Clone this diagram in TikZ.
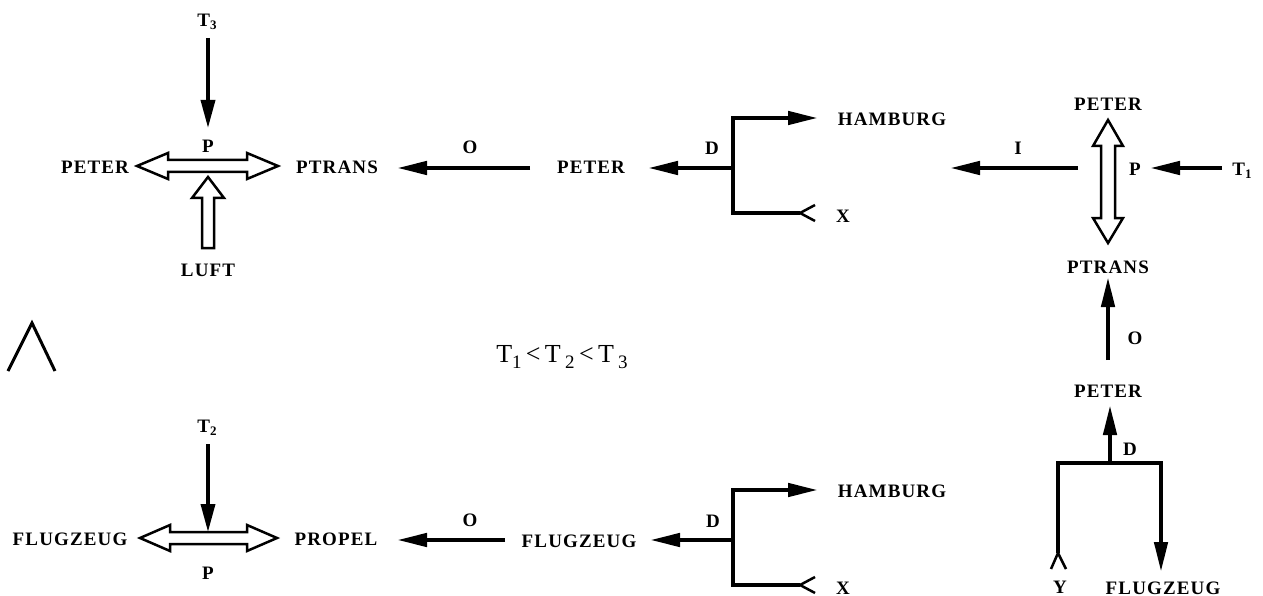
\documentclass[tikz,border=0pt]{standalone}
\usepackage{fontspec}
\setmainfont{Liberation Serif}
\newfontfamily\lblfont[LetterSpace=6]{Liberation Serif}
\usetikzlibrary{arrows.meta}
\newcommand\lowsub[1]{\raisebox{-0.4ex}{\fontsize{13}{13}\selectfont #1}}
\newcommand\relsub[1]{\raisebox{-0.45ex}{\fontsize{19}{19}\selectfont #1}}
\tikzset{
  lbl/.style={font=\lblfont\fontsize{19}{19}\selectfont\bfseries, inner sep=1pt},
  rel/.style={font=\fontsize{26}{26}\selectfont, inner sep=1pt},
  ln/.style={line width=4.5pt, line join=miter},
  thickarr/.style={ln, -{Triangle[length=30pt,width=13pt]}},
  tarr/.style={line width=3.5pt, -{Triangle[length=28pt,width=14pt]}},
  hollow/.style={line width=2.5pt, fill=white, line join=miter},
  wedge/.style={line width=2.5pt, line join=miter}
}
\begin{document}
\begin{tikzpicture}[x=1pt,y=-1pt]
\useasboundingbox (0,0) rectangle (1263,596);

% ---------- top-left: PETER <=> PTRANS ----------
\node[lbl] (t3) at (207,22) {T\lowsub{3}};
\node[lbl] (pA) at (208,146) {P};
\node[lbl] (peterA) at (95,167) {PETER};
\node[lbl] (ptransA) at (337,167) {PTRANS};
\node[lbl] (luft) at (208,270) {LUFT};
\coordinate (t3s) at (208,38);
\coordinate (t3e) at (208,128);
\draw[tarr] (t3s) -- (t3e);
% hollow double arrow
\draw[hollow] (137,166) -- (168,153) -- (168,160) -- (247,160) -- (247,153) -- (278,166)
  -- (247,179) -- (247,172) -- (168,172) -- (168,179) -- cycle;
% hollow up arrow (LUFT)
\draw[hollow] (208,177) -- (224,198) -- (214,198) -- (214,248) -- (202,248) -- (202,198) -- (192,198) -- cycle;

% O arrow
\node[lbl] (oA) at (470,147) {O};
\coordinate (oAs) at (530,168);
\coordinate (oAe) at (397,168);
\draw[thickarr] (oAs) -- (oAe);

% ---------- PETER with D branch (top) ----------
\node[lbl] (peterB) at (591,167) {PETER};
\node[lbl] (dA) at (712,148) {D};
\node[lbl] (hamA) at (892,119) {HAMBURG};
\node[lbl] (xA) at (843,216) {X};
\coordinate (jA) at (733,168);
\coordinate (jAe) at (648,168);
\draw[thickarr] (jA) -- (jAe);
\coordinate (bA) at (800,213);
\coordinate (bAc) at (733,213);
\coordinate (tAc) at (733,118);
\coordinate (tAe) at (818,118);
\draw[thickarr] (bA) -- (bAc) -- (tAc) -- (tAe);
\draw[wedge] (815,205) -- (bA) -- (815,221);

% ---------- top-right ----------
\node[lbl] (iA) at (1018,148) {I};
\coordinate (iAs) at (1078,168);
\coordinate (iAe) at (950,168);
\draw[thickarr] (iAs) -- (iAe);
\node[lbl] (peterC) at (1108,104) {PETER};
\node[lbl] (pB) at (1135,169) {P};
\node[lbl] (t1) at (1242,171) {T\lowsub{1}};
\coordinate (t1s) at (1222,168);
\coordinate (t1e) at (1150,168);
\draw[thickarr] (t1s) -- (t1e);
\draw[hollow] (1108,120) -- (1123,146) -- (1115,146) -- (1115,218) -- (1123,218) -- (1108,243)
  -- (1093,218) -- (1101,218) -- (1101,146) -- (1093,146) -- cycle;
\node[lbl] (ptransB) at (1108,267) {PTRANS};
\node[lbl] (oB) at (1135,338) {O};
\coordinate (oBs) at (1108,360);
\coordinate (oBe) at (1108,277);
\draw[thickarr] (oBs) -- (oBe);
\node[lbl] (peterD) at (1108,391) {PETER};
\node[lbl] (dB) at (1130,449) {D};
\coordinate (jB) at (1110,463);
\coordinate (jBe) at (1110,405);
\draw[thickarr] (jB) -- (jBe);
\coordinate (yE) at (1058,553);
\coordinate (yC) at (1058,463);
\coordinate (fC) at (1161,463);
\coordinate (fE) at (1161,572);
\draw[thickarr] (yE) -- (yC) -- (fC) -- (fE);
\draw[wedge] (1051,569) -- (yE) -- (1066,569);
\node[lbl] (yA) at (1060,587) {Y};
\node[lbl] (flugC) at (1163,588) {FLUGZEUG};

% ---------- middle ----------
\draw[line width=3pt, line join=miter] (8,371) -- (32,323) -- (55,371);
\node[rel] (order) at (562,357) {T\relsub{1}\,<\,T\,\relsub{2}\,<\,T\,\relsub{3}};

% ---------- bottom-left: FLUGZEUG <=> PROPEL ----------
\node[lbl] (t2) at (207,428) {T\lowsub{2}};
\coordinate (t2s) at (208,444);
\coordinate (t2e) at (208,532);
\draw[tarr] (t2s) -- (t2e);
\draw[hollow] (140,538) -- (170,525) -- (170,532) -- (247,532) -- (247,525) -- (277,538)
  -- (247,551) -- (247,544) -- (170,544) -- (170,551) -- cycle;
\node[lbl] (flugA) at (70,539) {FLUGZEUG};
\node[lbl] (pC) at (208,573) {P};
\node[lbl] (propel) at (336,539) {PROPEL};
\node[lbl] (oC) at (470,520) {O};
\coordinate (oCs) at (505,540);
\coordinate (oCe) at (397,540);
\draw[thickarr] (oCs) -- (oCe);

% ---------- FLUGZEUG with D branch (bottom) ----------
\node[lbl] (flugB) at (579,541) {FLUGZEUG};
\node[lbl] (dC) at (713,521) {D};
\node[lbl] (hamB) at (892,491) {HAMBURG};
\node[lbl] (xB) at (843,588) {X};
\coordinate (jC) at (733,540);
\coordinate (jCe) at (650,540);
\draw[thickarr] (jC) -- (jCe);
\coordinate (bC) at (800,585);
\coordinate (bCc) at (733,585);
\coordinate (tCc) at (733,490);
\coordinate (tCe) at (818,490);
\draw[thickarr] (bC) -- (bCc) -- (tCc) -- (tCe);
\draw[wedge] (815,577) -- (bC) -- (815,593);
\end{tikzpicture}
\end{document}
